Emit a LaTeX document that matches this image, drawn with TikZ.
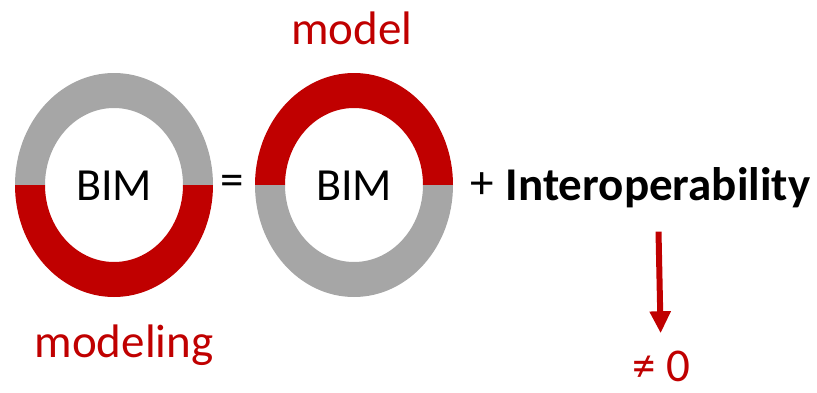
\documentclass[tikz,border=0pt]{standalone}
\usepackage{fontspec}
\setmainfont{Carlito}
\usetikzlibrary{arrows.meta}
\definecolor{RingRed}{HTML}{C00000}
\definecolor{RingGray}{HTML}{A6A6A6}
\tikzset{
  bimlabel/.style={anchor=base, inner sep=0pt, font=\fontsize{46}{50}\selectfont},
  redlabel/.style={anchor=base, inner sep=0pt, text=RingRed, font=\fontsize{47}{52}\selectfont},
  oplabel/.style={inner sep=0pt, font=\fontsize{47}{50}\selectfont},
  boldlabel/.style={anchor=base, inner sep=0pt, font=\fontsize{47}{50}\selectfont\bfseries},
  redarrow/.style={-{Triangle[width=20pt, length=22pt]}, line width=6pt, draw=RingRed}
}
\begin{document}
\begin{tikzpicture}[x=1pt, y=1pt]
\useasboundingbox (0,0) rectangle (817,392);

% left ring: gray top, red bottom
\fill[RingGray] (213,207) arc[start angle=0, end angle=180, x radius=99pt, y radius=112pt]
  -- (45,207) arc[start angle=180, end angle=0, x radius=69pt, y radius=77pt] -- cycle;
\fill[RingRed] (213,207) arc[start angle=0, end angle=-180, x radius=99pt, y radius=112pt]
  -- (45,207) arc[start angle=-180, end angle=0, x radius=69pt, y radius=77pt] -- cycle;

% right ring: red top, gray bottom
\fill[RingRed] (453,207) arc[start angle=0, end angle=180, x radius=99pt, y radius=112pt]
  -- (285,207) arc[start angle=180, end angle=0, x radius=69pt, y radius=77pt] -- cycle;
\fill[RingGray] (453,207) arc[start angle=0, end angle=-180, x radius=99pt, y radius=112pt]
  -- (285,207) arc[start angle=-180, end angle=0, x radius=69pt, y radius=77pt] -- cycle;

\node[bimlabel] (bimleft) at (114,192) {BIM};
\node[bimlabel] (bimright) at (354,192) {BIM};
\node[redlabel] (modeling) at (124,35) {modeling};
\node[redlabel] (model) at (352,347) {model};

\node[oplabel] (equals) at (232,207) {=};
\node[oplabel] (plus) at (482,206) {+};
\node[boldlabel] (interop) at (658,192) {Interoperability};
\node[redlabel] (neq) at (661,11) {≠ 0};

\draw[redarrow, shorten <=24pt, shorten >=17pt] (interop.south) -- (neq.north);
\end{tikzpicture}
\end{document}
